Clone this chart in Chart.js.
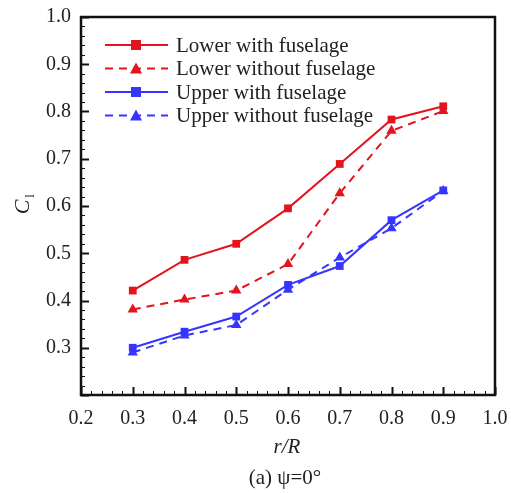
<!DOCTYPE html>
<html>
<head>
<meta charset="utf-8">
<script src="https://cdn.jsdelivr.net/npm/chart.js@4.4.1/dist/chart.umd.min.js"></script>
<style>
  html, body { margin: 0; padding: 0; background: #fff; }
  #wrap { width: 511px; height: 493px; }
</style>
</head>
<body>
<div id="wrap"><canvas id="chart" width="511" height="493"></canvas></div>
<script>
// r/R stations
const rR = [0.3, 0.4, 0.5, 0.6, 0.7, 0.8, 0.9];
// C_l values
const lowerWith    = [0.421, 0.486, 0.520, 0.595, 0.689, 0.783, 0.811];
const lowerWithout = [0.381, 0.402, 0.421, 0.477, 0.627, 0.759, 0.801];
const upperWith    = [0.300, 0.334, 0.366, 0.433, 0.473, 0.570, 0.633];
const upperWithout = [0.290, 0.326, 0.348, 0.423, 0.491, 0.553, 0.632];
const labels = ["Lower with fuselage", "Lower without fuselage", "Upper with fuselage", "Upper without fuselage"];
const xTicks = [0.2, 0.3, 0.4, 0.5, 0.6, 0.7, 0.8, 0.9, 1.0];
const yTicks = [0.3, 0.4, 0.5, 0.6, 0.7, 0.8, 0.9, 1.0];

const RED = "#e3141e";
const BLUE = "#3535ff";
const SERIF = "'Liberation Serif', 'Times New Roman', serif";

function pts(ys) {
  return rR.map((x, i) => ({ x: x, y: ys[i] }));
}

function mkSet(label, ys, color, dashed, shape) {
  return {
    label: label,
    data: pts(ys),
    borderColor: color,
    backgroundColor: color,
    borderWidth: 2,
    borderDash: dashed ? [8, 6] : [],
    pointStyle: shape,
    pointRadius: shape === "triangle" ? 6 : 5.5,
    pointBorderWidth: 0,
    tension: 0
  };
}

// frame, inward ticks, legend and axis titles
const decor = {
  id: "decor",
  afterDraw(chart) {
    const ctx = chart.ctx;
    const a = chart.chartArea;
    const xs = chart.scales.x, ys = chart.scales.y;
    ctx.save();
    ctx.strokeStyle = "#111";
    // minor + major ticks
    for (let i = 0; i <= 40; i++) {
      const v = 0.2 + i * 0.02;
      const major = i % 5 === 0;
      const len = major ? 8 : 4;
      ctx.lineWidth = major ? 2 : 1;
      const px = Math.round(xs.getPixelForValue(v)) + 0.5;
      ctx.beginPath(); ctx.moveTo(px, a.bottom); ctx.lineTo(px, a.bottom - len); ctx.stroke();
      const py = Math.round(ys.getPixelForValue(v)) + 0.5;
      ctx.beginPath(); ctx.moveTo(a.left, py); ctx.lineTo(a.left + len, py); ctx.stroke();
    }
    // frame
    ctx.lineWidth = 2.5;
    ctx.strokeRect(a.left, a.top, a.right - a.left, a.bottom - a.top);

    // legend
    ctx.font = "21px " + SERIF;
    ctx.textBaseline = "middle";
    chart.data.datasets.forEach((ds, i) => {
      const y = 45 + i * 23.5;
      ctx.strokeStyle = ds.borderColor;
      ctx.lineWidth = 2;
      ctx.setLineDash(ds.borderDash);
      ctx.beginPath(); ctx.moveTo(105, y); ctx.lineTo(168, y); ctx.stroke();
      ctx.setLineDash([]);
      ctx.fillStyle = ds.backgroundColor;
      if (ds.pointStyle === "rect") {
        ctx.fillRect(131, y - 5, 10, 10);
      } else {
        ctx.beginPath(); ctx.moveTo(136, y - 6); ctx.lineTo(142, y + 5); ctx.lineTo(130, y + 5); ctx.closePath(); ctx.fill();
      }
      ctx.fillStyle = "#222";
      ctx.textAlign = "left";
      ctx.fillText(ds.label, 176, y + 1);
    });

    // x title and caption
    ctx.textAlign = "center";
    ctx.font = "italic 21px " + SERIF;
    ctx.fillText("r/R", 287, 447);
    ctx.font = "21px " + SERIF;
    ctx.fillText("(a) ψ=0°", 285, 478);

    // y title C_l
    ctx.translate(23, 207);
    ctx.rotate(-Math.PI / 2);
    ctx.font = "italic 22px " + SERIF;
    ctx.textAlign = "center";
    ctx.fillText("C", 0, 0);
    ctx.font = "13px " + SERIF;
    ctx.fillText("l", 11, 8);
    ctx.restore();
  }
};

new Chart(document.getElementById("chart"), {
  type: "line",
  data: {
    datasets: [
      mkSet(labels[0], lowerWith, RED, false, "rect"),
      mkSet(labels[1], lowerWithout, RED, true, "triangle"),
      mkSet(labels[2], upperWith, BLUE, false, "rect"),
      mkSet(labels[3], upperWithout, BLUE, true, "triangle")
    ]
  },
  options: {
    responsive: false,
    animation: false,
    layout: { padding: { top: 17, right: 16, left: 0, bottom: 0 } },
    plugins: { legend: { display: false }, tooltip: { enabled: false } },
    scales: {
      x: {
        type: "linear",
        min: 0.2, max: 1.0,
        afterBuildTicks: s => { s.ticks = xTicks.map(v => ({ value: v })); },
        grid: { display: false, drawTicks: false },
        border: { display: false },
        ticks: {
          color: "#222", padding: 12,
          font: { family: SERIF, size: 20 },
          callback: v => v.toFixed(1)
        },
        afterFit: s => { s.height = 98; s.paddingLeft = 0; s.paddingRight = 0; }
      },
      y: {
        type: "linear",
        min: 0.2, max: 1.0,
        afterBuildTicks: s => { s.ticks = yTicks.map(v => ({ value: v })); },
        grid: { display: false, drawTicks: false },
        border: { display: false },
        ticks: {
          color: "#222", padding: 10,
          font: { family: SERIF, size: 20 },
          callback: v => v.toFixed(1)
        },
        afterFit: s => { s.width = 81; s.paddingTop = 0; s.paddingBottom = 0; }
      }
    }
  },
  plugins: [decor]
});
</script>
</body>
</html>
